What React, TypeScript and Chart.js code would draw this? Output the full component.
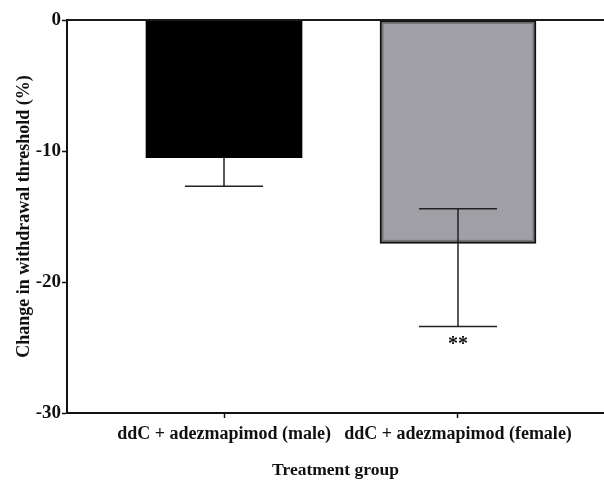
import React, { useEffect, useRef } from "react";
import { Chart, registerables } from "chart.js";

Chart.register(...registerables);

const categories = ["ddC + adezmapimod (male)", "ddC + adezmapimod (female)"];
const categoryPositions = [0, 1];
const meanValues = [-10.5, -17.05];
const errorUpper: (number | null)[] = [null, -14.4];
const errorLower = [-12.7, -23.4];
const significance = ["", "**"];
const barColors = ["#000000", "#a09fa5"];
const yTicks = [0, -10, -20, -30];

const FONT = "'Liberation Serif', 'Times New Roman', serif";

const errorBarPlugin = {
  id: "errorBars",
  afterDatasetsDraw(chart: any) {
    const { ctx, chartArea } = chart;
    const xs = chart.scales.x;
    const ys = chart.scales.y;
    ctx.save();

    // subtle inner shadow on the grey bar
    const meta = chart.getDatasetMeta(0);
    meta.data.forEach((bar: any, i: number) => {
      if (i !== 1) return;
      const left = bar.x - bar.width / 2;
      const top = Math.min(bar.y, bar.base);
      const h = Math.abs(bar.base - bar.y);
      ctx.strokeStyle = "rgba(40,40,40,0.35)";
      ctx.lineWidth = 2;
      ctx.strokeRect(left + 2.5, top + 2.5, bar.width - 5, h - 5);
    });

    const y0 = ys.getPixelForValue(0);
    ctx.strokeStyle = "#1a1a1a";
    ctx.lineWidth = 2;
    ctx.beginPath();
    ctx.moveTo(chartArea.left, y0);
    ctx.lineTo(chartArea.right, y0);
    ctx.stroke();

    ctx.strokeStyle = "#222222";
    ctx.lineWidth = 1.5;
    const capHalf = 39;
    categoryPositions.forEach((pos, i) => {
      const x = xs.getPixelForValue(pos);
      const up = errorUpper[i];
      const yu = ys.getPixelForValue(up ?? meanValues[i]);
      const yl = ys.getPixelForValue(errorLower[i]);
      ctx.beginPath();
      ctx.moveTo(x, yu);
      ctx.lineTo(x, yl);
      if (up !== null) {
        ctx.moveTo(x - capHalf, yu);
        ctx.lineTo(x + capHalf, yu);
      }
      ctx.moveTo(x - capHalf, yl);
      ctx.lineTo(x + capHalf, yl);
      ctx.stroke();
      if (significance[i]) {
        ctx.fillStyle = "#111111";
        ctx.font = `bold 20px ${FONT}`;
        ctx.textAlign = "center";
        ctx.textBaseline = "top";
        ctx.fillText(significance[i], x, yl + 8);
      }
    });
    ctx.restore();
  },
};

export default function App() {
  const canvasRef = useRef<HTMLCanvasElement | null>(null);

  useEffect(() => {
    const canvas = canvasRef.current;
    if (!canvas) return;
    const chart = new Chart(canvas, {
      type: "bar",
      data: {
        datasets: [
          {
            data: categoryPositions.map((p, i) => ({ x: p, y: meanValues[i] })),
            backgroundColor: barColors,
            borderColor: ["#000000", "#111111"],
            borderWidth: [0, 2],
            borderSkipped: false,
            barThickness: 156,
          } as any,
        ],
      },
      options: {
        animation: false,
        responsive: true,
        maintainAspectRatio: false,
        layout: { padding: { top: 20, right: 0, left: 0, bottom: 0 } },
        plugins: { legend: { display: false }, tooltip: { enabled: false } },
        scales: {
          x: {
            type: "linear",
            offset: false,
            min: -0.671,
            max: 1.624,
            afterBuildTicks: (axis: any) => {
              axis.ticks = categoryPositions.map((v) => ({ value: v }));
            },
            afterFit: (axis: any) => {
              axis.height = 69;
            },
            ticks: {
              autoSkip: false,
              maxRotation: 0,
              padding: 6,
              color: "#111111",
              font: { family: FONT, size: 18, weight: "bold" },
              callback: (v: any) => categories[categoryPositions.indexOf(Number(v))] ?? "",
            },
            grid: {
              offset: false,
              drawOnChartArea: false,
              color: "#111111",
              tickLength: 5,
              tickWidth: 1.5,
            },
            border: { color: "#111111", width: 2 },
            title: {
              display: true,
              text: "Treatment group",
              color: "#111111",
              font: { family: FONT, size: 17.5, weight: "bold" },
              padding: { top: 0, bottom: 1 },
            },
          },
          y: {
            min: -30,
            max: 0,
            afterBuildTicks: (axis: any) => {
              axis.ticks = yTicks.map((v) => ({ value: v }));
            },
            afterFit: (axis: any) => {
              axis.width = 67;
            },
            ticks: {
              padding: 1,
              color: "#111111",
              font: { family: FONT, size: 19, weight: "bold" },
            },
            grid: {
              drawOnChartArea: false,
              color: "#111111",
              tickLength: 5,
              tickWidth: 1.5,
            },
            border: { color: "#111111", width: 2 },
            title: {
              display: true,
              text: "Change in withdrawal threshold (%)",
              color: "#111111",
              font: { family: FONT, size: 18, weight: "bold" },
              padding: { top: 14, bottom: 0 },
            },
          },
        },
      },
      plugins: [errorBarPlugin],
    });
    return () => chart.destroy();
  }, []);

  return (
    <div style={{ position: "fixed", left: 0, top: 0, width: 604, height: 482, background: "#ffffff" }}>
      <canvas ref={canvasRef} />
    </div>
  );
}
